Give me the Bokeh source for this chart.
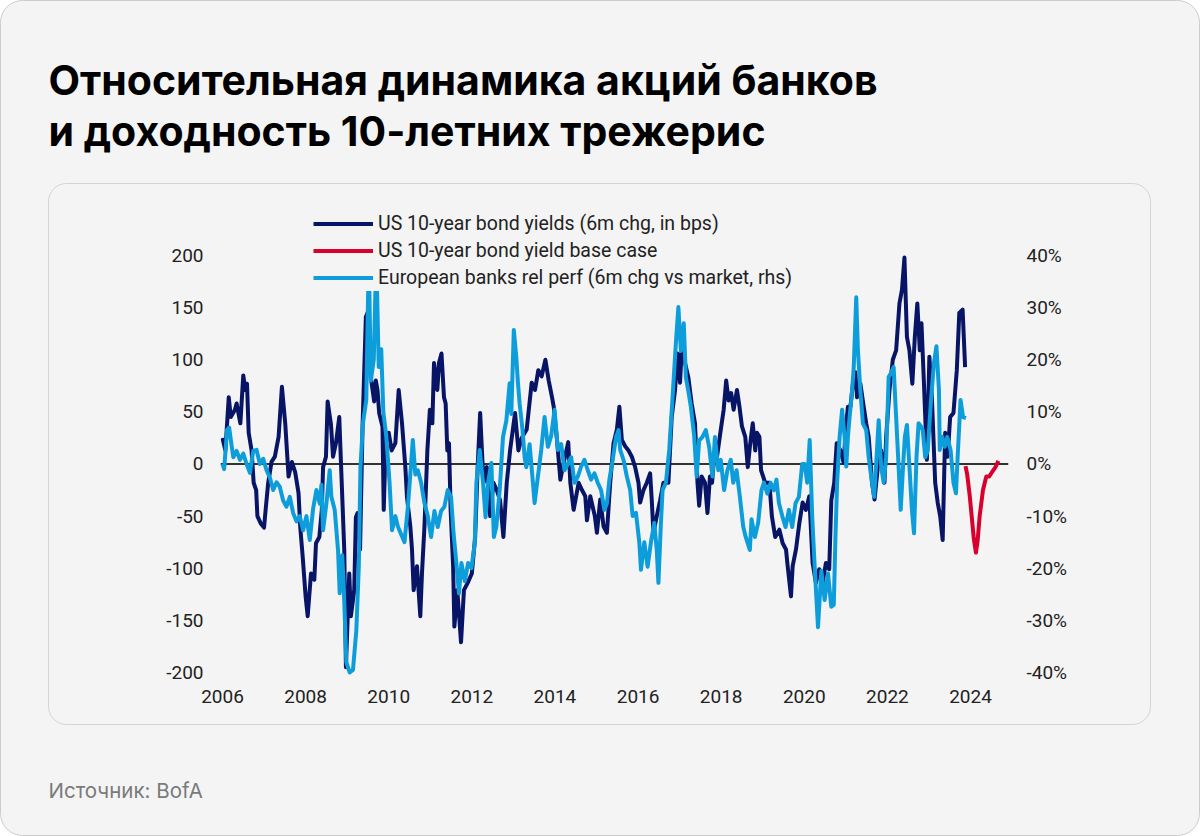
from bokeh.plotting import figure
from bokeh.layouts import column
from bokeh.models import (Range1d, LinearAxis, FixedTicker, PrintfTickFormatter,
                          Label, Span, Legend, LegendItem)
from bokeh.embed import file_html
from bokeh.resources import INLINE

# ---------------- data ----------------
us_t = [2006.00, 2006.07, 2006.15, 2006.20, 2006.30, 2006.34, 2006.43, 2006.50, 2006.55, 2006.59,
        2006.63, 2006.70, 2006.75, 2006.81, 2006.84, 2006.92, 2007.00, 2007.04, 2007.10, 2007.18,
        2007.26, 2007.35, 2007.43, 2007.51, 2007.55, 2007.59, 2007.67, 2007.75, 2007.83, 2007.87,
        2007.93, 2008.00, 2008.05, 2008.13, 2008.21, 2008.25, 2008.33, 2008.39, 2008.42, 2008.49,
        2008.53, 2008.61, 2008.66, 2008.73, 2008.81, 2008.85, 2008.93, 2008.97, 2009.05, 2009.09,
        2009.17, 2009.21, 2009.25, 2009.31, 2009.37, 2009.45, 2009.51, 2009.57, 2009.65, 2009.69,
        2009.73, 2009.77, 2009.85, 2009.88, 2009.93, 2010.00, 2010.07, 2010.16, 2010.24, 2010.32,
        2010.40, 2010.44, 2010.52, 2010.56, 2010.60, 2010.68, 2010.76, 2010.80, 2010.86, 2010.93,
        2010.99, 2011.05, 2011.09, 2011.17, 2011.21, 2011.27, 2011.33, 2011.37, 2011.41, 2011.45,
        2011.49, 2011.55, 2011.58, 2011.65, 2011.74, 2011.81, 2011.90, 2012.00, 2012.08, 2012.14,
        2012.20, 2012.28, 2012.36, 2012.44, 2012.52, 2012.60, 2012.68, 2012.76, 2012.84, 2012.92,
        2013.04, 2013.12, 2013.20, 2013.32, 2013.44, 2013.52, 2013.60, 2013.68, 2013.77, 2013.85,
        2013.93, 2013.97, 2014.05, 2014.13, 2014.21, 2014.32, 2014.37, 2014.45, 2014.57, 2014.65,
        2014.73, 2014.77, 2014.85, 2014.96, 2015.01, 2015.09, 2015.17, 2015.25, 2015.33, 2015.41,
        2015.49, 2015.55, 2015.61, 2015.69, 2015.77, 2015.85, 2015.93, 2016.01, 2016.05, 2016.13,
        2016.21, 2016.29, 2016.33, 2016.37, 2016.45, 2016.53, 2016.61, 2016.73, 2016.81, 2016.89,
        2016.95, 2017.01, 2017.05, 2017.13, 2017.21, 2017.29, 2017.37, 2017.43, 2017.47, 2017.53,
        2017.61, 2017.67, 2017.73, 2017.78, 2017.82, 2017.90, 2017.98, 2018.06, 2018.12, 2018.18,
        2018.24, 2018.30, 2018.38, 2018.44, 2018.50, 2018.58, 2018.64, 2018.70, 2018.76, 2018.82,
        2018.86, 2018.92, 2018.96, 2019.06, 2019.16, 2019.22, 2019.30, 2019.40, 2019.48, 2019.56,
        2019.60, 2019.68, 2019.72, 2019.80, 2019.88, 2019.96, 2020.04, 2020.12, 2020.16, 2020.20,
        2020.28, 2020.36, 2020.44, 2020.52, 2020.60, 2020.65, 2020.72, 2020.78, 2020.87, 2020.95,
        2020.99, 2021.05, 2021.11, 2021.17, 2021.23, 2021.27, 2021.35, 2021.43, 2021.49, 2021.55,
        2021.63, 2021.69, 2021.77, 2021.85, 2021.93, 2021.97, 2022.05, 2022.13, 2022.21, 2022.29,
        2022.35, 2022.41, 2022.47, 2022.53, 2022.60, 2022.66, 2022.72, 2022.78, 2022.82, 2022.88,
        2022.95, 2023.01, 2023.07, 2023.15, 2023.21, 2023.27, 2023.33, 2023.39, 2023.45, 2023.51,
        2023.59, 2023.67, 2023.73, 2023.81, 2023.87]
us_bps = [25, 13, 64, 45, 52, 58, 39, 85, 71, 77,
          30, 13, -18, -25, -50, -57, -61, -43, -18, 2,
          7, 26, 74, 39, 13, -12, 2, -8, -28, -60,
          -89, -127, -146, -105, -111, -76, -70, -44, -3, 7,
          60, 38, 7, 20, 45, 2, -82, -195, -105, -146,
          -121, -51, -47, -82, 36, 141, 147, 83, 60, 80,
          71, 49, 36, -44, 25, 30, 13, 20, 71, 39,
          -3, -32, -60, -82, -121, -98, -146, -105, -60, 13,
          52, 39, 97, 71, 97, 106, 64, 58, 13, 20,
          -44, -98, -156, -121, -171, -121, -114, -105, -70, -3,
          49, -18, -3, -50, -18, -25, -35, -70, -18, 13,
          49, 13, 25, 33, 78, 71, 90, 84, 100, 80,
          64, 55, 23, -15, 1, 21, -18, -44, -18, -25,
          -31, -54, -31, -50, -66, -34, -60, -66, -18, 20,
          33, 55, 23, 17, 13, 7, -3, -18, -37, -25,
          -18, -9, -35, -66, -50, -35, -18, -18, 45, 71,
          106, 78, 109, 97, 83, 58, 39, -18, -40, -12,
          -18, -47, -12, -18, 1, 7, 30, 52, 80, 61,
          68, 52, 71, 55, 36, 26, -3, 20, 39, 13,
          30, 26, -6, -18, -18, -50, -70, -63, -76, -82,
          -98, -127, -98, -82, -57, -37, -44, -31, -63, -95,
          -114, -101, -114, -95, -101, -35, -18, 20, 13, 1,
          30, 55, 55, 77, 88, 64, 77, 55, 39, 26,
          -18, -34, -3, 13, -18, 26, 71, 100, 109, 154,
          167, 198, 122, 109, 77, 122, 154, 109, 135, 77,
          4, 103, 64, -18, -37, -50, -73, 30, 7, 45,
          49, 90, 145, 148, 93]

base_t = [2023.88, 2023.92, 2023.98, 2024.04, 2024.08, 2024.13, 2024.17, 2024.22, 2024.30, 2024.38,
          2024.45, 2024.53, 2024.60, 2024.67]
base_bps = [-2, -10, -30, -55, -72, -85, -74, -50, -25, -12,
            -12, -7, -3, 3]

eu_t = [2006.00, 2006.04, 2006.11, 2006.16, 2006.22, 2006.26, 2006.34, 2006.42, 2006.50, 2006.58,
        2006.66, 2006.74, 2006.82, 2006.90, 2006.98, 2007.06, 2007.14, 2007.22, 2007.30, 2007.38,
        2007.46, 2007.54, 2007.62, 2007.70, 2007.78, 2007.86, 2007.94, 2008.02, 2008.10, 2008.18,
        2008.26, 2008.34, 2008.38, 2008.42, 2008.50, 2008.58, 2008.62, 2008.70, 2008.78, 2008.82,
        2008.88, 2008.92, 2008.98, 2009.06, 2009.14, 2009.22, 2009.28, 2009.32, 2009.38, 2009.46,
        2009.52, 2009.57, 2009.64, 2009.70, 2009.76, 2009.82, 2009.87, 2009.94, 2010.02, 2010.08,
        2010.16, 2010.22, 2010.30, 2010.38, 2010.46, 2010.54, 2010.58, 2010.64, 2010.70, 2010.78,
        2010.86, 2010.94, 2011.02, 2011.10, 2011.18, 2011.26, 2011.34, 2011.42, 2011.50, 2011.56,
        2011.62, 2011.69, 2011.75, 2011.83, 2011.91, 2011.99, 2012.07, 2012.11, 2012.19, 2012.27,
        2012.33, 2012.39, 2012.47, 2012.53, 2012.59, 2012.67, 2012.75, 2012.83, 2012.91, 2012.95,
        2013.01, 2013.07, 2013.11, 2013.15, 2013.22, 2013.27, 2013.31, 2013.39, 2013.47, 2013.51,
        2013.59, 2013.67, 2013.75, 2013.83, 2013.91, 2013.99, 2014.07, 2014.15, 2014.23, 2014.31,
        2014.39, 2014.47, 2014.55, 2014.63, 2014.71, 2014.79, 2014.87, 2014.95, 2015.03, 2015.11,
        2015.19, 2015.25, 2015.31, 2015.39, 2015.47, 2015.53, 2015.57, 2015.65, 2015.73, 2015.81,
        2015.87, 2015.95, 2016.03, 2016.07, 2016.15, 2016.23, 2016.31, 2016.39, 2016.45, 2016.49,
        2016.55, 2016.59, 2016.67, 2016.75, 2016.83, 2016.91, 2016.97, 2017.03, 2017.10, 2017.15,
        2017.21, 2017.27, 2017.35, 2017.41, 2017.47, 2017.55, 2017.63, 2017.71, 2017.79, 2017.85,
        2017.93, 2017.99, 2018.07, 2018.15, 2018.23, 2018.29, 2018.37, 2018.45, 2018.53, 2018.59,
        2018.69, 2018.73, 2018.81, 2018.89, 2018.97, 2019.03, 2019.11, 2019.19, 2019.27, 2019.33,
        2019.39, 2019.47, 2019.55, 2019.63, 2019.71, 2019.79, 2019.87, 2019.95, 2020.01, 2020.07,
        2020.13, 2020.19, 2020.25, 2020.33, 2020.41, 2020.49, 2020.57, 2020.65, 2020.71, 2020.75,
        2020.79, 2020.85, 2020.91, 2020.97, 2021.01, 2021.05, 2021.09, 2021.15, 2021.19, 2021.25,
        2021.29, 2021.35, 2021.41, 2021.49, 2021.55, 2021.61, 2021.68, 2021.74, 2021.79, 2021.85,
        2021.91, 2021.97, 2022.03, 2022.09, 2022.15, 2022.21, 2022.27, 2022.32, 2022.38, 2022.42,
        2022.47, 2022.53, 2022.59, 2022.64, 2022.70, 2022.75, 2022.81, 2022.85, 2022.91, 2022.97,
        2023.05, 2023.12, 2023.18, 2023.24, 2023.26, 2023.32, 2023.38, 2023.44, 2023.52, 2023.59,
        2023.65, 2023.69, 2023.76, 2023.82, 2023.89]
eu_pct = [0, -1, 6.5, 7, 3.5, 1.3, 2.5, 0.8, 2, 0,
          -1.7, 2.5, 2.7, 0, 1, -1.2, -2.6, -5, -3.5, -4.4,
          -7, -8.2, -6.3, -9.4, -11, -10, -12.7, -10, -14.6, -8.6,
          -5, -7.6, -4, -12.7, -7.6, -1.2, -6.3, -8.8, -16.5, -24.8,
          -17.5, -24, -38, -40, -39.5, -32, -19.7, -0.6, 7.8, 12.3,
          40, 16, 20, 40, 18.6, 22, 10, 5.4, -3.6, -12.7,
          -10, -12, -13.5, -15, -8.3, 0.2, 4.6, -2, -1.2, -3.6,
          -7.5, -10, -14, -9, -12.1, -9, -8.2, -5, -6.3, -13.3,
          -18.3, -24.8, -19, -22.5, -19, -20, -15.2, -3.6, 2.7, -3.6,
          -10.2, -3.6, 0.2, -14, -12, -5, 5.2, 8.3, 15.5, 9.6,
          25.7, 20.5, 15.5, 11.6, 6.5, 1.3, -0.6, 3.8, -3.6, -7.5,
          -2.4, 2.7, 9, 3.3, 5.4, 10.4, 2.7, 3.8, -1.2, 0,
          1.3, -3.6, -2.4, -0.5, 0.8, -1.2, -3, -1.8, -3.6, -5,
          -8.8, -7.6, -3, 0.8, 5.2, 6.5, 2.7, 0.8, -2.4, -5,
          -10, -9.4, -15, -20.3, -15, -19.7, -15, -11.3, -16.5, -22.8,
          -11.3, -5, -3.6, 2.7, 12.8, 23.2, 30.1, 21.7, 27, 16.6,
          14, 11, 5.4, -2.4, 4.5, 5.2, 6.5, 3.3, -2.4, 5.2,
          -1.2, 0.8, -5, -1.2, 0.8, -3.6, -1.2, -6.3, -12, -14,
          -16.5, -10.6, -14, -11.3, -5, -3.6, -5.7, -3.6, -5, -3,
          -7.5, -10, -12.1, -8.8, -12.1, -7.5, -6.3, 0, 0, -3.6,
          4.6, -10, -19.7, -31.3, -20.5, -26.1, -21, -27.4, -27, -14,
          -3.6, 5.2, 10.4, 5.2, -0.5, 5.2, 9, 14, 18.6, 32,
          21.9, 14, 7.8, 6.5, 1.3, -2.4, -6.3, 1.3, 8.4, -0.5,
          -3.6, 1.3, 16.7, 17.5, 18.6, 9, -0.6, -8.8, 0, 5.2,
          7.5, -0.5, -8.8, -13.3, 1.3, 7.8, 7.2, 6.5, 1.3, 2.5,
          12.3, 19.4, 22.6, 14.2, 2.7, 5.2, 3.3, 5.2, 2.7, -3.6,
          -5.6, 1.3, 12.3, 9, 8.8]

year_ticks = [2006, 2008, 2010, 2012, 2014, 2016, 2018, 2020, 2022, 2024]
bps_ticks = [-200, -150, -100, -50, 0, 50, 100, 150, 200]
pct_ticks = [-40, -30, -20, -10, 0, 10, 20, 30, 40]

title_lines = ["Относительная динамика акций банков", "и доходность 10-летних трежерис"]
source_text = "Источник: BofA"
series_names = ["US 10-year bond yields (6m chg, in bps)",
                "US 10-year bond yield base case",
                "European banks rel perf (6m chg vs market, rhs)"]

# ---------------- styling ----------------
NAVY = "#081466"
RED = "#d8002c"
LIGHT = "#0e9ddb"
BG = "#f4f4f4"
TXT = "#222222"
FONT = "Roboto"
HFONT = "Inter"

HEAD_H = 170          # header strip height (page px)
MAIN_H = 575          # chart strip height
FOOT_H = 836 - HEAD_H - MAIN_H

# card decoration (outer card + inner chart card) painted as the layout background
card_svg = ("<svg xmlns='http://www.w3.org/2000/svg' width='1200' height='836'>"
            "<rect x='0.5' y='0.5' width='1199' height='835' rx='22' fill='%23f4f4f4' stroke='%23cccccc'/>"
            "<rect x='48.5' y='183.5' width='1102' height='541' rx='18' fill='none' stroke='%23d4d4d4'/>"
            "</svg>")
card_styles = {"background-image": "url(\"data:image/svg+xml;utf8," + card_svg + "\")",
               "background-repeat": "no-repeat", "background-color": "white"}


def text_strip(h):
    f = figure(width=1200, height=h, output_backend="svg", toolbar_location=None,
               x_range=Range1d(0, 1200), y_range=Range1d(h, 0),
               x_axis_type=None, y_axis_type=None, frame_align=False,
               min_border_left=0, min_border_right=0, min_border_top=0, min_border_bottom=0,
               background_fill_color=None, border_fill_color=None, outline_line_color=None)
    f.grid.visible = False
    return f


# ---------- header ----------
head = text_strip(HEAD_H)
head.add_layout(Label(x=48, y=79, text=title_lines[0], text_font=HFONT, text_font_style="bold",
                      text_font_size="41px", text_color="#000000", text_baseline="alphabetic"))
head.add_layout(Label(x=48, y=130, text=title_lines[1], text_font=HFONT, text_font_style="bold",
                      text_font_size="41px", text_color="#000000", text_baseline="alphabetic"))

# ---------- chart ----------
fig = figure(width=1200, height=MAIN_H, output_backend="svg", toolbar_location=None,
             x_range=Range1d(2005.952, 2024.914), y_range=Range1d(-202.9, 245.1),
             min_border_left=220, min_border_right=192, frame_align=False,
             min_border_top=208 - HEAD_H, min_border_bottom=HEAD_H + MAIN_H - 675,
             background_fill_color=None, border_fill_color=None, outline_line_color=None)
fig.extra_y_ranges = {"rhs": Range1d(-202.9 / 5, 245.1 / 5)}
fig.grid.visible = False

fig.add_layout(Span(location=0, dimension="width", line_color="#333333", line_width=2, level="underlay"))

for ax in [fig.xaxis[0], fig.yaxis[0]]:
    ax.axis_line_color = None
    ax.major_tick_line_color = None
    ax.minor_tick_line_color = None
    ax.major_tick_out = 0
    ax.major_label_text_font = FONT
    ax.major_label_text_font_size = "19px"
    ax.major_label_text_color = TXT

fig.xaxis.ticker = FixedTicker(ticks=year_ticks)
fig.xaxis.formatter = PrintfTickFormatter(format="%d")
fig.xaxis.major_label_standoff = 14
fig.yaxis.ticker = FixedTicker(ticks=bps_ticks)
fig.yaxis.formatter = PrintfTickFormatter(format="%d")
fig.yaxis.major_label_standoff = 17

rax = LinearAxis(y_range_name="rhs", ticker=FixedTicker(ticks=pct_ticks),
                 formatter=PrintfTickFormatter(format="%d%%"),
                 axis_line_color=None, major_tick_line_color=None, minor_tick_line_color=None,
                 major_tick_out=0, major_label_standoff=18,
                 major_label_text_font=FONT, major_label_text_font_size="19px",
                 major_label_text_color=TXT)
fig.add_layout(rax, "right")

r_us = fig.line(us_t, us_bps, line_color=NAVY, line_width=4, line_join="round")
r_base = fig.line(base_t, base_bps, line_color=RED, line_width=4, line_join="round")
r_eu = fig.line(eu_t, eu_pct, y_range_name="rhs", line_color=LIGHT, line_width=4, line_join="round")

legend = Legend(items=[LegendItem(label=series_names[0], renderers=[r_us]),
                       LegendItem(label=series_names[1], renderers=[r_base]),
                       LegendItem(label=series_names[2], renderers=[r_eu])],
                location=(93, 675 - 291), orientation="vertical",
                glyph_width=60, glyph_height=27, label_height=27, spacing=0, padding=0, margin=0,
                label_standoff=5, label_text_font=FONT, label_text_font_size="19.5px",
                label_text_color=TXT, background_fill_color=BG, background_fill_alpha=1,
                border_line_color=None)
fig.add_layout(legend, "center")

# ---------- footer ----------
foot = text_strip(FOOT_H)
foot.add_layout(Label(x=48, y=790 - HEAD_H - MAIN_H, text=source_text, text_font=HFONT,
                      text_font_size="20.5px", text_color="#7a7a7a", text_baseline="alphabetic"))

p = column(head, fig, foot, spacing=0, styles=card_styles)

open("out.html", "w").write(file_html(p, INLINE))
